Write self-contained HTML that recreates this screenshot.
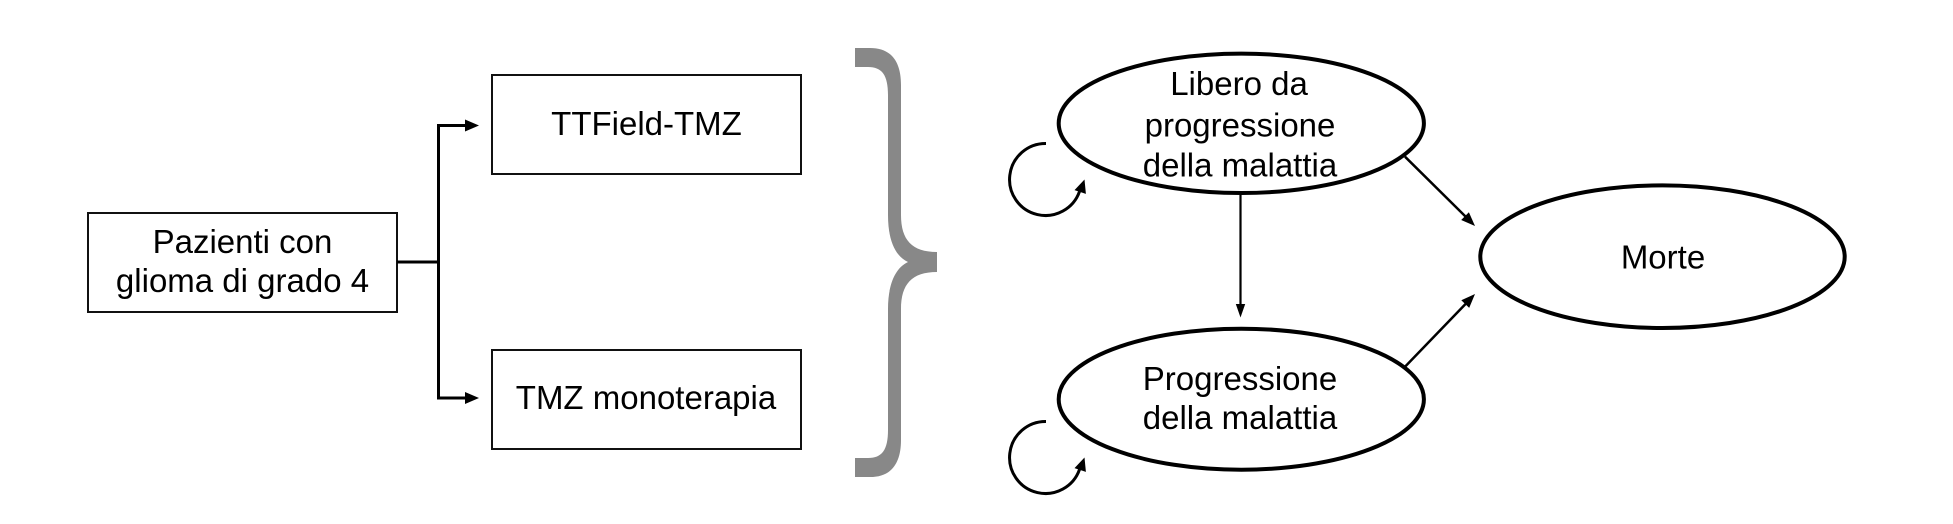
<!DOCTYPE html>
<html>
<head>
<meta charset="utf-8">
<style>
  html, body { margin: 0; padding: 0; background: #ffffff; }
  body { width: 1953px; height: 524px; overflow: hidden; }
  svg { display: block; }
  text { font-family: "Liberation Sans", Arial, sans-serif; font-size: 33px; fill: #000; text-anchor: middle; }
</style>
</head>
<body>
<svg width="1953" height="524" viewBox="0 0 1953 524" xmlns="http://www.w3.org/2000/svg">
  <rect x="0" y="0" width="1953" height="524" fill="#ffffff"/>

  <!-- Left box -->
  <rect x="88" y="213" width="309" height="99" fill="none" stroke="#111" stroke-width="2"/>
  <text x="242.5" y="253">Pazienti con</text>
  <text x="242.5" y="292">glioma di grado 4</text>

  <!-- Connectors left -->
  <path d="M397 262 H438.5" fill="none" stroke="#000" stroke-width="3"/>
  <path d="M467 125.5 H438.5 V398 H467" fill="none" stroke="#000" stroke-width="3" stroke-linejoin="miter"/>
  <polygon points="479,125.5 465,119.5 465,131.5" fill="#000"/>
  <polygon points="479,398 465,392 465,404" fill="#000"/>

  <!-- Middle boxes -->
  <rect x="492" y="75" width="309" height="99" fill="none" stroke="#111" stroke-width="2"/>
  <text x="646.5" y="135">TTField-TMZ</text>
  <rect x="492" y="350" width="309" height="99" fill="none" stroke="#111" stroke-width="2"/>
  <text x="646" y="409">TMZ monoterapia</text>

  <!-- Brace -->
  <path d="M855 48 H870 C890 48 901 60 901 85 V215 C901 240 912 252 937 252 V272 C912 272 901 284 901 309 V440 C901 465 890 477 870 477 H855 V458 H868 C882 458 888 450 888 430 V309 C888 285 895 268 908 262 C895 256 888 240 888 215 V95 C888 75 882 67 868 67 H855 Z" fill="#888888"/>

  <!-- Ellipse 1 -->
  <ellipse cx="1241.3" cy="123.3" rx="182.6" ry="69.7" fill="none" stroke="#000" stroke-width="4"/>
  <text x="1239" y="95">Libero da</text>
  <text x="1240" y="136.5">progressione</text>
  <text x="1240" y="176.5">della malattia</text>

  <!-- Ellipse 2 -->
  <ellipse cx="1241.3" cy="399.2" rx="182.6" ry="70.5" fill="none" stroke="#000" stroke-width="4"/>
  <text x="1240" y="390">Progressione</text>
  <text x="1240" y="429">della malattia</text>

  <!-- Morte -->
  <ellipse cx="1662.5" cy="256.7" rx="182.2" ry="71.3" fill="none" stroke="#000" stroke-width="4"/>
  <text x="1663" y="268.5">Morte</text>

  <!-- Vertical arrow -->
  <path d="M1240.5 195 V305" fill="none" stroke="#000" stroke-width="2.2"/>
  <polygon points="1235.8,304 1245.2,304 1240.5,317.5" fill="#000"/>

  <!-- Diagonal arrows -->
  <path d="M1405 156.7 L1466 217" fill="none" stroke="#000" stroke-width="2.5"/>
  <polygon points="1475,226 1461.2,220.05 1468.9,212.2" fill="#000"/>
  <path d="M1405 366.7 L1466 303.5" fill="none" stroke="#000" stroke-width="2.5"/>
  <polygon points="1475,294 1469.2,307.9 1461.3,300.3" fill="#000"/>

  <!-- Self loops -->
  <path d="M1046 143.5 A36 36 0 1 0 1079.5 191.5" fill="none" stroke="#000" stroke-width="3"/>
  <polygon points="1084.5,179.5 1085.9,193.9 1074.5,190.1" fill="#000"/>

  <path d="M1046 421.5 A36 36 0 1 0 1079.5 469.5" fill="none" stroke="#000" stroke-width="3"/>
  <polygon points="1084.5,457.5 1085.9,471.9 1074.5,468.1" fill="#000"/>
</svg>
</body>
</html>
